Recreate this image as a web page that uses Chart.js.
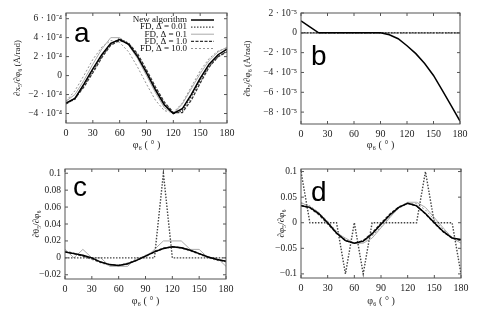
<!DOCTYPE html>
<html lang="en">
<head>
<meta charset="UTF-8">
<title>Derivatives: new algorithm vs finite differences</title>
<style>
  body { margin: 0; background: #fff; }
  .panel { position: absolute; height: 156px; }
</style>
</head>
<body>
<div class="panel" style="left:0;top:0;width:240px"><canvas id="chartA" width="240" height="156"></canvas></div>
<div class="panel" style="left:240px;top:0;width:239px"><canvas id="chartB" width="239" height="156"></canvas></div>
<div class="panel" style="left:0;top:156px;width:240px"><canvas id="chartC" width="240" height="156"></canvas></div>
<div class="panel" style="left:240px;top:156px;width:239px"><canvas id="chartD" width="239" height="156"></canvas></div>

<script src="https://cdn.jsdelivr.net/npm/chart.js"></script>
<script>
// angle phi_6 in degrees
const angles = [0, 10, 20, 30, 40, 50, 60, 70, 80, 90, 100, 110, 120, 130, 140, 150, 160, 170, 180];
const seriesNames = ['New algorithm', 'FD, Δ = 0.01', 'FD, Δ = 0.1', 'FD, Δ = 1.0', 'FD, Δ = 10.0'];
const xTicks = [0, 30, 60, 90, 120, 150, 180];

// panel a, dx/dphi (1e-4 A/rad)
const aNew   = [-2.9, -2.4, -0.9, 0.7, 2.2, 3.4, 3.8, 3.3, 2.0, 0.3, -1.5, -3.1, -4.0, -3.5, -2.0, -0.3, 1.2, 2.2, 2.8];
const aFd001 = [-2.9, -2.5, -1.0, 0.5, 2.0, 3.3, 3.9, 3.4, 2.1, 0.4, -1.4, -3.0, -4.0, -3.7, -2.2, -0.5, 1.0, 2.0, 2.6];
const aFd01  = [-2.7, -2.0, -0.5, 1.2, 2.8, 4.0, 4.0, 3.2, 1.8, 0.0, -1.8, -3.4, -4.0, -3.0, -1.4, 0.2, 1.6, 2.5, 3.0];
const aFd1   = [-3.0, -2.4, -1.2, 0.3, 1.9, 3.2, 3.7, 3.4, 2.3, 0.6, -1.2, -2.8, -3.9, -3.9, -2.6, -0.8, 0.9, 2.0, 2.5];
const aFd10  = [-2.7, -1.6, 0.0, 1.7, 3.0, 3.7, 3.5, 2.5, 0.9, -0.9, -2.6, -3.7, -3.9, -2.9, -1.2, 0.5, 1.8, 2.6, 2.9];
const aTicks = [-4, -2, 0, 2, 4, 6];

// panel b, db/dphi (1e-5 A/rad)
const bNew   = [1.2, 0.6, 0, 0, 0, 0, 0, 0, 0, 0, -0.2, -0.6, -1.3, -2.1, -3.1, -4.3, -5.8, -7.35, -8.9];
const bFd001 = [0, 0, 0, 0, 0, 0, 0, 0, 0, 0, 0, 0, 0, 0, 0, 0, 0, 0, 0];
const bFd01  = [0, 0, 0, 0, 0, 0, 0, 0, 0, 0, 0, 0, 0, 0, 0, 0, 0, 0, 0];
const bFd1   = [0, 0, 0, 0, 0, 0, 0, 0, 0, 0, 0, 0, 0, 0, 0, 0, 0, 0, 0];
const bFd10  = [0, 0, 0, 0, 0, 0, 0, 0, 0, 0, 0, 0, 0, 0, 0, 0, 0, 0, 0];
const bTicks = [-8, -6, -4, -2, 0, 2];

// panel c, dtheta/dphi
const cNew   = [0.007, 0.005, 0.003, 0.0, -0.005, -0.008, -0.009, -0.007, -0.003, 0.002, 0.007, 0.011, 0.013, 0.012, 0.009, 0.005, 0.001, -0.002, -0.004];
const cFd001 = [0, 0, 0, 0, 0, 0, 0, 0, 0, 0, 0, 0.1, 0, 0, 0, 0, 0, 0, 0];
const cFd01  = [0.01, 0.0, 0.01, 0.0, 0.0, -0.01, -0.01, -0.01, 0.0, 0.0, 0.01, 0.02, 0.02, 0.02, 0.01, 0.01, 0.0, 0.0, -0.01];
const cFd1   = [0.007, 0.005, 0.002, -0.001, -0.005, -0.008, -0.009, -0.007, -0.003, 0.002, 0.007, 0.011, 0.013, 0.012, 0.009, 0.005, 0.001, -0.002, -0.004];
const cFd10  = [0.008, 0.006, 0.002, -0.002, -0.006, -0.009, -0.009, -0.006, -0.002, 0.003, 0.008, 0.012, 0.013, 0.011, 0.008, 0.004, 0.0, -0.003, -0.005];
const cTicks = [-0.02, 0, 0.02, 0.04, 0.06, 0.08, 0.1];

// panel d, dphi5/dphi6
const dNew   = [0.033, 0.030, 0.018, 0.0, -0.020, -0.035, -0.040, -0.036, -0.022, -0.003, 0.015, 0.030, 0.038, 0.033, 0.018, 0.0, -0.017, -0.030, -0.033];
const dFd001 = [0.1, 0, 0, 0, 0, -0.1, 0, -0.1, 0, 0, 0, 0, 0, 0, 0.1, 0, 0, 0, -0.1];
const dFd01  = [0.04, 0.03, 0.02, 0.0, -0.02, -0.03, -0.04, -0.04, -0.03, -0.01, 0.01, 0.03, 0.04, 0.04, 0.03, 0.01, -0.01, -0.03, -0.04];
const dFd1   = [0.034, 0.029, 0.016, -0.002, -0.021, -0.035, -0.040, -0.035, -0.020, -0.001, 0.017, 0.031, 0.038, 0.033, 0.017, -0.001, -0.018, -0.030, -0.035];
const dFd10  = [0.038, 0.033, 0.020, 0.003, -0.017, -0.033, -0.040, -0.038, -0.026, -0.008, 0.011, 0.028, 0.038, 0.037, 0.025, 0.006, -0.013, -0.028, -0.036];
const dTicks = [-0.1, -0.05, 0, 0.05, 0.1];

const lineStyles = [
  { borderColor: '#000', borderWidth: 1.5, borderDash: [] },
  { borderColor: '#444', borderWidth: 1.4, borderDash: [1.5, 1.5] },
  { borderColor: '#aaa', borderWidth: 1.0, borderDash: [] },
  { borderColor: '#333', borderWidth: 1.3, borderDash: [3, 1.5] },
  { borderColor: '#777', borderWidth: 0.8, borderDash: [2, 2] }
];

const serif = 'Liberation Serif';

function minus(s) { return String(s).replace('-', '−'); }

function sciLabel(sup) {
  return v => v === 0 ? '0' : minus(v) + ' · 10' + sup;
}

// gnuplot style box with inward ticks, panel letter and legend
const framePlugin = {
  id: 'frame',
  afterDatasetsDraw(chart) {
    const { ctx, chartArea: a, scales } = chart;
    ctx.save();
    ctx.strokeStyle = '#555';
    ctx.lineWidth = 1;
    ctx.strokeRect(a.left, a.top, a.right - a.left, a.bottom - a.top);
    ctx.beginPath();
    scales.x.ticks.forEach(t => {
      const px = scales.x.getPixelForValue(t.value);
      ctx.moveTo(px, a.bottom); ctx.lineTo(px, a.bottom - 3);
      ctx.moveTo(px, a.top); ctx.lineTo(px, a.top + 3);
    });
    scales.y.ticks.forEach(t => {
      const py = scales.y.getPixelForValue(t.value);
      ctx.moveTo(a.left, py); ctx.lineTo(a.left + 3, py);
      ctx.moveTo(a.right, py); ctx.lineTo(a.right - 3, py);
    });
    ctx.stroke();

    const letter = chart.options.plugins.panelLetter;
    if (letter) {
      ctx.fillStyle = '#000';
      ctx.font = '28px "Liberation Sans"';
      ctx.textAlign = 'left';
      ctx.textBaseline = 'alphabetic';
      ctx.fillText(letter.text, letter.x, letter.y);
    }

    const lg = chart.options.plugins.boxLegend;
    if (lg) {
      ctx.font = '9px "' + serif + '"';
      ctx.textAlign = 'right';
      ctx.textBaseline = 'middle';
      chart.data.datasets.forEach((ds, i) => {
        const y = lg.y + i * lg.step;
        ctx.fillStyle = '#111';
        ctx.fillText(ds.label, lg.x, y);
        ctx.strokeStyle = ds.borderColor;
        ctx.lineWidth = ds.borderWidth;
        ctx.setLineDash(ds.borderDash);
        ctx.beginPath();
        ctx.moveTo(lg.x + 4, y); ctx.lineTo(lg.x + 27, y);
        ctx.stroke();
        ctx.setLineDash([]);
      });
    }
    ctx.restore();
  }
};

function makeChart(id, series, scale, yMin, yMax, yTicks, yLabel, yFmt, box, extra) {
  const datasets = series.map((vals, i) => Object.assign({
    label: seriesNames[i],
    data: angles.map((a, k) => ({ x: a, y: vals[k] * scale })),
    pointRadius: 0,
    tension: 0,
    fill: false
  }, lineStyles[i]));
  return new Chart(document.getElementById(id), {
    type: 'line',
    data: { datasets },
    options: {
      responsive: false,
      animation: false,
      layout: { padding: { top: 13, right: box.right, left: 0, bottom: 0 } },
      plugins: Object.assign({ legend: { display: false }, tooltip: { enabled: false } }, extra),
      scales: {
        x: {
          type: 'linear', min: 0, max: 180,
          afterBuildTicks: s => { s.ticks = xTicks.map(v => ({ value: v })); },
          afterFit: s => { s.height = box.xh; },
          grid: { display: false, drawTicks: false },
          border: { display: false },
          ticks: { color: '#222', padding: 4, maxRotation: 0, font: { family: serif, size: 10 } },
          title: { display: true, text: 'φ₆ ( ° )', color: '#222', padding: { top: 0, bottom: 5 }, font: { family: serif, size: 10 } }
        },
        y: {
          min: yMin, max: yMax,
          afterBuildTicks: s => { s.ticks = yTicks.map(v => ({ value: v * scale })); },
          afterFit: s => { s.width = box.yw; },
          grid: { display: false, drawTicks: false },
          border: { display: false },
          ticks: { color: '#222', padding: 4, font: { family: serif, size: 9.5 }, callback: v => yFmt(v / scale) },
          title: { display: true, text: yLabel, color: '#222', padding: { top: box.tp, bottom: 0 }, font: { family: serif, size: 9 } }
        }
      }
    },
    plugins: [framePlugin]
  });
}

makeChart('chartA', [aNew, aFd001, aFd01, aFd1, aFd10], 1e-4, -5e-4, 6.6e-4, aTicks,
  '∂x₅/∂φ₆ (Å/rad)', sciLabel('⁻⁴'), { right: 13, xh: 33, yw: 66, tp: 12 },
  { panelLetter: { text: 'a', x: 74, y: 42 }, boxLegend: { x: 187, y: 20, step: 7.1 } });

makeChart('chartB', [bNew, bFd001, bFd01, bFd1, bFd10], 1e-5, -9.2e-5, 2e-5, bTicks,
  '∂b₅/∂φ₆ (Å/rad)', sciLabel('⁻⁵'), { right: 19, xh: 32, yw: 61, tp: 2 },
  { panelLetter: { text: 'b', x: 71, y: 65 } });

makeChart('chartC', [cNew, cFd001, cFd01, cFd1, cFd10], 1, -0.025, 0.105, cTicks,
  '∂θ₅/∂φ₆', v => v === 0 ? '0' : minus(+v.toFixed(2)), { right: 14, xh: 33, yw: 65, tp: 31 },
  { panelLetter: { text: 'c', x: 73, y: 40 } });

makeChart('chartD', [dNew, dFd001, dFd01, dFd1, dFd10], 1, -0.108, 0.105, dTicks,
  '∂φ₅/∂φ₆', v => v === 0 ? '0' : minus(+v.toFixed(2)), { right: 18, xh: 34, yw: 61, tp: 36 },
  { panelLetter: { text: 'd', x: 71, y: 45 } });
</script>
</body>
</html>
